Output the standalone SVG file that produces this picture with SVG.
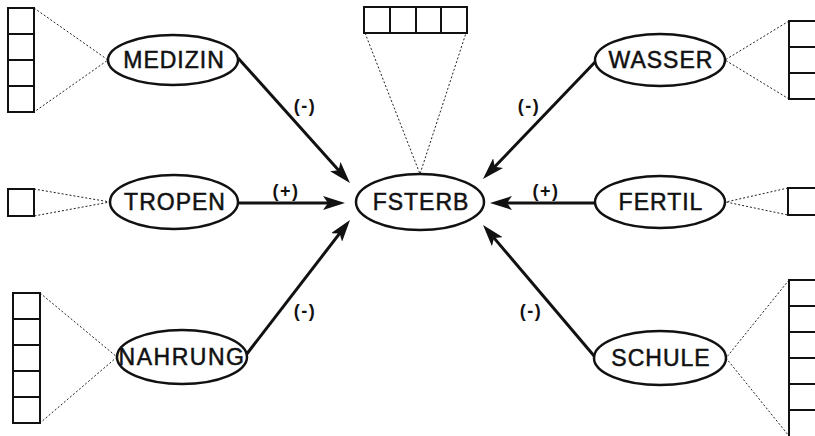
<svg xmlns="http://www.w3.org/2000/svg" width="815" height="436" viewBox="0 0 815 436">
<style>
.node ellipse{fill:#fff;stroke:#111;stroke-width:2.5}
.node text{font-family:"Liberation Sans",Arial,sans-serif;font-size:23px;letter-spacing:1px;text-anchor:middle;fill:#111;stroke:#111;stroke-width:0.5}
.box{fill:#fff;stroke:#111;stroke-width:2}
.div{stroke:#111;stroke-width:2}
.dot{stroke:#222;stroke-width:1;stroke-dasharray:2,2;fill:none}
.edge{stroke:#111;stroke-width:3;fill:none}
.lbl{font-family:"Liberation Sans",Arial,sans-serif;font-size:18px;font-weight:bold;letter-spacing:1.5px;text-anchor:middle;fill:#111}
</style>
<defs>
<marker id="ah" viewBox="0 0 22 14" markerWidth="22" markerHeight="14" markerUnits="userSpaceOnUse" refX="12" refY="7" orient="auto">
<path d="M0,0 L22,7 L0,14 L5,7 z" fill="#111"/>
</marker>
</defs>
<rect width="815" height="436" fill="#fff"/>
<g id="connectors">
<path class="edge" d="M238,58 L343.3,175.5" marker-end="url(#ah)"/>
<path class="edge" d="M239,203 L335,203" marker-end="url(#ah)"/>
<path class="edge" d="M246,355 L343.9,227.9" marker-end="url(#ah)"/>
<path class="edge" d="M597,60 L489.9,171.8" marker-end="url(#ah)"/>
<path class="edge" d="M595,203 L500,203" marker-end="url(#ah)"/>
<path class="edge" d="M595,357 L489.5,232.6" marker-end="url(#ah)"/>
<text class="lbl" x="305" y="112">(-)</text>
<text class="lbl" x="286" y="197">(+)</text>
<text class="lbl" x="305" y="317">(-)</text>
<text class="lbl" x="529" y="112">(-)</text>
<text class="lbl" x="546" y="197">(+)</text>
<text class="lbl" x="531" y="317">(-)</text>
</g>
<g id="medizin" class="node">
<path class="dot" d="M34,8 L108,60 L34,112"/>
<rect class="box" x="8" y="8" width="26" height="104"/>
<path class="div" d="M8,34 H34 M8,60 H34 M8,86 H34"/>
<ellipse cx="173" cy="60" rx="65" ry="25"/>
<text x="174" y="68">MEDIZIN</text>
</g>
<g id="tropen" class="node">
<path class="dot" d="M34,189 L110,202 L34,216"/>
<rect class="box" x="8" y="189" width="26" height="27"/>
<ellipse cx="174" cy="202" rx="64" ry="27"/>
<text x="175" y="210">TROPEN</text>
</g>
<g id="nahrung" class="node">
<path class="dot" d="M40,293 L117,357 L40,423"/>
<rect class="box" x="13" y="293" width="27" height="130"/>
<path class="div" d="M13,319 H40 M13,345 H40 M13,371 H40 M13,397 H40"/>
<ellipse cx="182" cy="357" rx="65" ry="27"/>
<text x="182" y="365" style="letter-spacing:1.5px">NAHRUNG</text>
</g>
<g id="fsterb" class="node">
<path class="dot" d="M365,33 L420,174 L466,33"/>
<rect class="box" x="364" y="7" width="103" height="26"/>
<path class="div" d="M390,7 V33 M416,7 V33 M441,7 V33"/>
<ellipse cx="420" cy="202" rx="64" ry="28"/>
<text x="421" y="210">FSTERB</text>
</g>
<g id="wasser" class="node">
<path class="dot" d="M789,21 L725,60 L789,99"/>
<rect class="box" x="789" y="21" width="30" height="78"/>
<path class="div" d="M789,47 H815 M789,73 H815"/>
<ellipse cx="660" cy="60" rx="65" ry="26"/>
<text x="661" y="68">WASSER</text>
</g>
<g id="fertil" class="node">
<path class="dot" d="M788,188 L726,202 L788,215"/>
<rect class="box" x="788" y="188" width="30" height="27"/>
<ellipse cx="660" cy="202" rx="65" ry="26"/>
<text x="661" y="210">FERTIL</text>
</g>
<g id="schule" class="node">
<path class="dot" d="M789,280 L726,358 L789,436"/>
<rect class="box" x="789" y="280" width="30" height="170"/>
<path class="div" d="M789,306 H815 M789,332 H815 M789,358 H815 M789,384 H815 M789,410 H815"/>
<ellipse cx="660" cy="358" rx="66" ry="27"/>
<text x="661" y="366">SCHULE</text>
</g>
</svg>
